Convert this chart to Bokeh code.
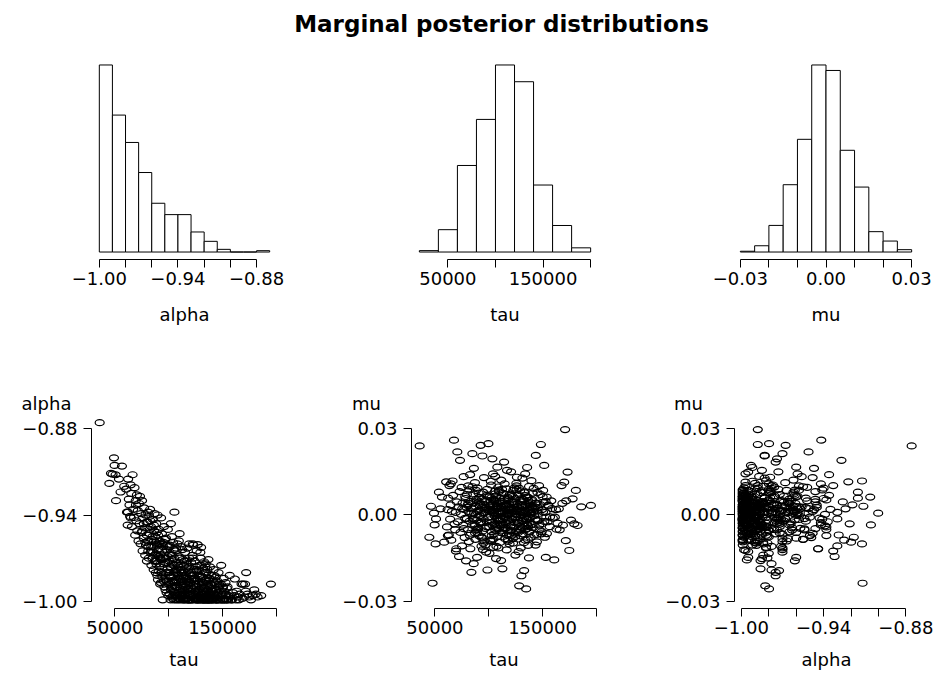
from bokeh.plotting import figure
from bokeh.layouts import column, row
from bokeh.models import (Range1d, FixedTicker, CustomJSTickFormatter, Label,
                          ColumnDataSource)
from bokeh.embed import file_html
from bokeh.resources import INLINE

FONT = "DejaVu Sans"
TITLE = "Marginal posterior distributions"

# ---------------- histogram data (counts per bin) ----------------
alpha_edges = [-1.00, -0.99, -0.98, -0.97, -0.96, -0.95, -0.94, -0.93, -0.92, -0.91,
               -0.90, -0.89, -0.88, -0.87]
alpha_counts = [280, 205, 164, 119, 73, 56, 56, 30, 16, 4, 0, 0, 2]

tau_edges = [20000, 40000, 60000, 80000, 100000, 120000, 140000, 160000, 180000, 200000]
tau_counts = [2, 32, 124, 190, 268, 244, 96, 38, 6]

mu_edges = [-0.030, -0.025, -0.020, -0.015, -0.010, -0.005, 0.000, 0.005, 0.010,
            0.015, 0.020, 0.025, 0.030]
mu_counts = [1, 8, 34, 86, 144, 239, 232, 130, 83, 26, 14, 3]

# ---------------- posterior samples ----------------
tau = [
    35800,
    47800, 50600, 49100, 49700, 53700, 46300, 51000, 56500, 44800, 55200, 58600,
    60400, 61200, 61800, 62300, 62900, 63500, 64100, 64600, 65200, 65800, 66400, 66900,
    67700, 68200, 68800, 69300, 69900, 70400, 70800, 71300, 71900, 72400, 72900, 73300,
    73800, 74300, 74800, 75200, 75700, 76200, 76700, 77100, 77600, 78100, 78500, 78900,
    79300, 79700, 62000, 64800, 69500,
    80300, 80700, 81100, 81500, 81900, 82300, 82700, 83100, 83500, 83900, 84300, 84800,
    85200, 85600, 86000, 86400, 86800, 87200, 87600, 88000, 88400, 88800, 89200, 89600,
    90000, 90400, 90800, 91200, 91600, 92000, 92500, 92900, 93300, 93700, 94100, 94400,
    94800, 95200, 95600, 96000, 96400, 96800, 97200, 97600, 98000, 98400, 98800, 99200,
    99700, 80900, 82900, 84600, 86200, 87900, 89400, 91000, 92700, 93900, 95400, 97000,
    98600, 99500, 88600,
    100200, 100500, 100800, 101100, 101400, 101700, 102000, 102300, 102600, 102900,
    103200, 103400, 103700, 104000, 104300, 104600, 104900, 105300, 105600, 105900,
    106200, 106500, 106800, 107100, 107400, 107700, 108000, 108300, 108600, 108900,
    109200, 109500, 109800, 110100, 110400, 110700, 111000, 111300, 111600, 111900,
    112200, 112700, 113000, 113300, 113600, 113900, 114300, 114600, 114900, 115200,
    115500, 115800, 116100, 116400, 116700, 117000, 117300, 117600, 117900, 118200,
    118500, 118800, 119100, 119400, 119700, 100700, 101900, 103000, 104100, 105100,
    106000, 107200, 108400, 109400, 110500, 111500, 112600, 113700, 114800, 115900,
    116900, 118000, 119000, 119900, 104800, 109000, 113100, 117800,
    120200, 120500, 120800, 121100, 121400, 121700, 122000, 122400, 122700, 123000,
    123300, 123600, 123900, 124200, 124500, 124800, 125100, 125400, 125700, 126000,
    126300, 126600, 127000, 127300, 127600, 127900, 128300, 128600, 128900, 129200,
    129500, 129800, 130100, 130400, 130700, 131000, 131300, 131600, 131900, 132200,
    132600, 132900, 133200, 133500, 133800, 134100, 134400, 134800, 135100, 135400,
    135700, 136000, 136300, 136600, 136900, 137200, 137500, 137800, 138100, 138400,
    138800, 139100, 139400, 139700, 121000, 122900, 124600, 126200, 127800, 129400,
    131100, 132700, 134200, 135900, 137400, 139000, 125900, 130900, 133900, 138600,
    140300, 140800, 141300, 141800, 142300, 142800, 143300, 143800, 144300, 144800,
    145300, 145800, 146300, 146800, 147300, 147800, 148500, 148800, 149400, 150000,
    150600, 151100, 151600, 152200, 152800, 153100, 153900, 154700, 155600, 156700,
    158200, 159600,
    160900, 161500, 163000, 165200, 167700, 169000, 170200, 171000, 171700, 172000,
    173300, 174900, 176500, 178000, 179500,
    181000, 182600, 186000, 195000,
]

alpha = [
    -0.8758,
    -0.9116, -0.9120, -0.9002, -0.9055, -0.9150, -0.9110, -0.9300, -0.9060, -0.9180,
    -0.9240, -0.9200,
    -0.9220, -0.9380, -0.9470, -0.9150, -0.9290, -0.9330, -0.9410, -0.9190, -0.9250,
    -0.9480, -0.9120, -0.9360, -0.9417, -0.9210, -0.9540, -0.9300, -0.9440, -0.9260,
    -0.9510, -0.9370, -0.9580, -0.9320, -0.9460, -0.9270, -0.9600, -0.9390, -0.9520,
    -0.9300, -0.9650, -0.9420, -0.9560, -0.9350, -0.9490, -0.9680, -0.9400, -0.9610,
    -0.9450, -0.9720, -0.9380, -0.9420, -0.9330,
    -0.9450, -0.9380, -0.9620, -0.9700, -0.9410, -0.9530, -0.9360, -0.9660, -0.9480,
    -0.9750, -0.9570, -0.9700, -0.9430, -0.9620, -0.9780, -0.9510, -0.9390, -0.9680,
    -0.9550, -0.9800, -0.9460, -0.9720, -0.9600, -0.9400, -0.9850, -0.9640, -0.9500,
    -0.9760, -0.9580, -0.9880, -0.9677, -0.9420, -0.9710, -0.9530, -0.9830, -0.9990,
    -0.9620, -0.9740, -0.9480, -0.9900, -0.9660, -0.9570, -0.9800, -0.9700, -0.9940,
    -0.9610, -0.9780, -0.9500, -0.9798, -0.9580, -0.9440, -0.9650, -0.9470, -0.9590,
    -0.9820, -0.9690, -0.9870, -0.9600, -0.9860, -0.9920, -0.9730, -0.9960, -0.9740,
    -0.9880, -0.9720, -0.9950, -0.9610, -0.9830, -0.9990, -0.9460, -0.9770, -0.9910,
    -0.9680, -0.9860, -0.9740, -0.9970, -0.9590, -0.9820, -0.9930, -0.9700, -0.9380,
    -0.9890, -0.9790, -0.9960, -0.9650, -0.9850, -0.9990, -0.9730, -0.9900, -0.9600,
    -0.9810, -0.9940, -0.9760, -0.9870, -0.9980, -0.9690, -0.9530, -0.9840, -0.9950,
    -0.9780, -0.9890, -0.9620, -0.9970, -0.9800, -0.9860, -0.9920, -0.9710, -0.9990,
    -0.9830, -0.9750, -0.9930, -0.9880, -0.9660, -0.9960, -0.9820, -0.9900, -0.9740,
    -0.9980, -0.9850, -0.9630, -0.9940, -0.9790, -0.9910, -0.9870, -0.9990, -0.9700,
    -0.9840, -0.9950, -0.9800, -0.9920, -0.9550, -0.9960, -0.9640, -0.9870, -0.9780,
    -0.9970, -0.9580, -0.9910, -0.9860, -0.9640, -0.9950, -0.9800, -0.9990, -0.9720,
    -0.9880, -0.9600, -0.9930, -0.9990, -0.9990, -0.9980, -0.9990,
    -0.9870, -0.9960, -0.9730, -0.9910, -0.9820, -0.9990, -0.9680, -0.9600, -0.9890,
    -0.9950, -0.9780, -0.9860, -0.9980, -0.9720, -0.9930, -0.9840, -0.9990, -0.9760,
    -0.9900, -0.9650, -0.9970, -0.9810, -0.9606, -0.9940, -0.9880, -0.9990, -0.9826,
    -0.9750, -0.9920, -0.9850, -0.9960, -0.9700, -0.9625, -0.9750, -0.9900, -0.9980,
    -0.9830, -0.9930, -0.9770, -0.9990, -0.9870, -0.9725, -0.9950, -0.9800, -0.9910,
    -0.9990, -0.9740, -0.9798, -0.9960, -0.9860, -0.9920, -0.9780, -0.9990, -0.9890,
    -0.9710, -0.9940, -0.9840, -0.9990, -0.9900, -0.9760, -0.9970, -0.9880, -0.9930,
    -0.9820, -0.9800, -0.9610, -0.9980, -0.9790, -0.9950, -0.9660, -0.9870, -0.9990,
    -0.9930, -0.9970, -0.9810, -0.9950, -0.9990, -0.9990, -0.9970, -0.9990,
    -0.9920, -0.9850, -0.9990, -0.9780, -0.9950, -0.9880, -0.9970, -0.9830, -0.9920,
    -0.9990, -0.9860, -0.9940, -0.9800, -0.9970, -0.9890, -0.9990, -0.9880, -0.9750,
    -0.9960, -0.9910, -0.9990, -0.9840, -0.9930, -0.9980, -0.9870, -0.9950, -0.9990,
    -0.9900, -0.9960, -0.9820, -0.9990, -0.9940,
    -0.9960, -0.9845, -0.9930, -0.9990, -0.9880, -0.9880, -0.9970, -0.9880, -0.9930,
    -0.9800, -0.9950, -0.9970, -0.9990, -0.9960, -0.9920,
    -0.9950, -0.9970, -0.9960, -0.9880,
]

mu = [
    0.0240,
    -0.0238, -0.0101, 0.0006, -0.0035, 0.0079, 0.0030, -0.0014, 0.0062, -0.0078,
    0.0021, -0.0095,
    0.0115, -0.0042, 0.0018, 0.0058, -0.0070, 0.0102, -0.0015, 0.0035, -0.0088,
    0.0012, 0.0118, 0.0068, 0.0260, -0.0031, -0.0052, 0.0009, -0.0118, 0.0045,
    0.0219, -0.0024, 0.0028, -0.0145, 0.0081, 0.0190, -0.0061, 0.0002, 0.0096,
    -0.0108, 0.0041, -0.0036, 0.0133, 0.0019, -0.0079, -0.0012, 0.0057, -0.0160,
    0.0026, 0.0071, -0.0072, 0.0108, -0.0126,
    0.0034, -0.0051, 0.0012, -0.0093, 0.0087, -0.0022, 0.0140, 0.0047, -0.0064,
    -0.0200, 0.0021, 0.0213, -0.0011, 0.0073, -0.0170, 0.0006, -0.0038, 0.0112,
    -0.0085, 0.0029, 0.0054, -0.0019, -0.0148, 0.0093, -0.0044, 0.0015, -0.0072,
    0.0061, -0.0003, 0.0038, 0.0242, -0.0027, -0.0109, 0.0025, 0.0205, -0.0056,
    0.0079, -0.0014, 0.0130, -0.0091, 0.0008, -0.0047, 0.0052, -0.0130, 0.0017,
    0.0068, -0.0192, -0.0008, 0.0248, 0.0101, -0.0118, -0.0035, 0.0162, 0.0001,
    -0.0061, 0.0044, -0.0024, -0.0081, 0.0036, -0.0105, 0.0089, 0.0019, -0.0052,
    0.0012, -0.0041, 0.0063, -0.0017, 0.0028, -0.0089, 0.0045, 0.0104, -0.0058,
    0.0009, -0.0026, 0.0195, 0.0037, 0.0143, -0.0113, 0.0018, -0.0067, 0.0052,
    -0.0004, 0.0083, -0.0039, 0.0024, -0.0152, 0.0066, -0.0012, 0.0031, 0.0166,
    -0.0075, 0.0003, 0.0097, -0.0048, 0.0014, -0.0021, 0.0058, -0.0096, 0.0042,
    0.0007, -0.0033, 0.0121, -0.0062, 0.0026, -0.0188, 0.0011, -0.0015, 0.0075,
    -0.0044, 0.0184, -0.0006, 0.0049, -0.0083, 0.0020, -0.0029, 0.0091, 0.0033,
    -0.0122, 0.0155, -0.0053, 0.0004, 0.0060, -0.0019, 0.0039, -0.0070, 0.0015,
    -0.0101, 0.0072, -0.0134, 0.0117, -0.0085, 0.0053, -0.0031, 0.0134, -0.0110,
    0.0022, 0.0086, -0.0012, -0.0159, 0.0047, -0.0035, 0.0108, -0.0046, 0.0001,
    -0.0092, 0.0029, -0.0057, 0.0005, -0.0016, 0.0032, -0.0001,
    0.0025, -0.0037, 0.0150, 0.0008, -0.0071, 0.0046, -0.0014, 0.0064, -0.0098,
    0.0019, 0.0035, -0.0043, 0.0094, -0.0026, 0.0002, -0.0140, 0.0057, -0.0009,
    0.0110, -0.0059, 0.0013, -0.0018, 0.0040, -0.0084, 0.0071, -0.0030, -0.0247,
    0.0023, -0.0052, 0.0084, 0.0001, -0.0115, 0.0030, -0.0212, 0.0045, -0.0022,
    0.0128, -0.0066, 0.0010, 0.0052, -0.0039, -0.0194, 0.0017, 0.0077, -0.0005,
    -0.0088, 0.0036, -0.0258, 0.0061, -0.0016, 0.0165, -0.0047, 0.0027, -0.0106,
    0.0050, -0.0011, 0.0099, -0.0060, 0.0016, -0.0025, 0.0042, -0.0078, 0.0007,
    0.0119, -0.0055, 0.0086, -0.0007, 0.0131, -0.0128, 0.0012, 0.0034, -0.0012,
    0.0067, -0.0033, -0.0150, 0.0024, 0.0088, -0.0044, 0.0143, 0.0003,
    0.0053, -0.0034, 0.0011, 0.0092, -0.0070, 0.0028, -0.0015, 0.0207, 0.0041,
    -0.0094, 0.0078, -0.0021, 0.0005, 0.0102, -0.0052, 0.0036, 0.0245, -0.0066,
    0.0018, -0.0030, 0.0085, 0.0044, 0.0172, -0.0078, 0.0009, -0.0148, 0.0062,
    -0.0024, 0.0031, -0.0041, 0.0049, -0.0011,
    -0.0157, -0.0008, -0.0050, 0.0021, 0.0102, -0.0036, 0.0114, 0.0297, -0.0090,
    0.0049, 0.0149, -0.0124, -0.0018, 0.0056, -0.0031,
    0.0085, -0.0037, 0.0028, 0.0033,
]

# further samples in the dense core of the scatter clouds
tau_more = [
    85500, 87300, 89100, 90600, 92200, 93800, 95100, 96600, 97900, 99100,
    100400, 101600, 102800, 103900, 105000, 106100, 107300, 108500, 109600, 110800,
    111900, 113100, 114200, 115400, 116500, 117700, 118800, 120000, 121200, 122300,
    123500, 124700, 125800, 127000, 128100, 129300, 130500, 131600, 132800, 134000,
    135100, 136300, 137500, 138600, 139800, 141000, 142200, 143400, 144600, 145800,
    86400, 88200, 90100, 91800, 93400, 95000, 96900, 98300, 99800, 101300,
    102500, 103600, 104700, 105800, 106900, 108000, 109100, 110200, 111300, 112400,
    113500, 114600, 115700, 116800, 117900, 119000, 120100, 121300, 122400, 123600,
    124800, 125900, 127100, 128200, 129400, 130600, 131700, 132900, 134100, 135200,
    136400, 137600, 138700, 139900, 141100, 142300, 143500, 144700, 146900, 148100,
    149300, 150500, 151700, 152900, 154100, 155300, 157000, 162500, 166000, 168500,
    75400, 76800, 78200, 79600, 81000, 82400, 83800, 84900, 86900, 88900,
    91400, 94600, 97400, 100900, 104400, 107700, 111000, 114000, 118400, 121800,
    126500, 129900, 133300, 136800, 140500, 145200, 150200, 153500, 158800, 164000,
]

alpha_more = [
    -0.9660, -0.9720, -0.9610, -0.9790, -0.9740, -0.9650, -0.9810, -0.9730, -0.9860, -0.9690,
    -0.9820, -0.9760, -0.9900, -0.9710, -0.9940, -0.9800, -0.9870, -0.9750, -0.9920, -0.9850,
    -0.9780, -0.9960, -0.9830, -0.9900, -0.9770, -0.9950, -0.9860, -0.9810, -0.9970, -0.9890,
    -0.9840, -0.9930, -0.9790, -0.9980, -0.9880, -0.9940, -0.9830, -0.9970, -0.9900, -0.9850,
    -0.9990, -0.9920, -0.9860, -0.9960, -0.9910, -0.9980, -0.9870, -0.9950, -0.9990, -0.9900,
    -0.9580, -0.9670, -0.9540, -0.9700, -0.9800, -0.9590, -0.9850, -0.9640, -0.9870, -0.9670,
    -0.9830, -0.9980, -0.9750, -0.9900, -0.9630, -0.9960, -0.9820, -0.9700, -0.9940, -0.9800,
    -0.9890, -0.9720, -0.9980, -0.9850, -0.9920, -0.9760, -0.9990, -0.9850, -0.9700, -0.9960,
    -0.9880, -0.9780, -0.9930, -0.9990, -0.9820, -0.9950, -0.9880, -0.9990, -0.9760, -0.9930,
    -0.9990, -0.9840, -0.9960, -0.9990, -0.9930, -0.9820, -0.9990, -0.9960, -0.9880, -0.9990,
    -0.9950, -0.9900, -0.9990, -0.9960, -0.9910, -0.9990, -0.9970, -0.9990, -0.9950, -0.9980,
    -0.9510, -0.9460, -0.9590, -0.9540, -0.9650, -0.9500, -0.9620, -0.9550, -0.9720, -0.9520,
    -0.9600, -0.9700, -0.9560, -0.9620, -0.9860, -0.9900, -0.9990, -0.9990, -0.9990, -0.9990,
    -0.9990, -0.9990, -0.9980, -0.9990, -0.9990, -0.9990, -0.9990, -0.9990, -0.9990, -0.9970,
]

mu_more = [
    0.0042, -0.0063, 0.0011, 0.0076, -0.0029, 0.0055, -0.0098, 0.0023, -0.0041, 0.0064,
    -0.0008, 0.0036, -0.0072, 0.0014, 0.0049, -0.0053, 0.0027, -0.0019, 0.0081, -0.0035,
    0.0003, -0.0064, 0.0058, -0.0011, 0.0037, -0.0087, 0.0021, -0.0042, 0.0069, -0.0006,
    0.0045, -0.0075, 0.0016, -0.0028, 0.0093, -0.0049, 0.0008, 0.0054, -0.0097, 0.0031,
    -0.0013, 0.0062, -0.0057, 0.0019, -0.0033, 0.0076, -0.0002, 0.0040, -0.0068, 0.0025,
    -0.0016, 0.0085, -0.0049, 0.0031, -0.0077, 0.0007, 0.0046, -0.0024, 0.0018, -0.0091,
    0.0060, -0.0037, 0.0009, 0.0073, -0.0045, 0.0032, -0.0115, 0.0048, -0.0021, 0.0089,
    -0.0054, 0.0012, 0.0035, -0.0070, 0.0004, 0.0067, -0.0029, 0.0043, -0.0083, 0.0026,
    -0.0010, 0.0101, -0.0062, 0.0015, -0.0040, 0.0057, -0.0018, 0.0080, -0.0051, 0.0003,
    -0.0086, 0.0038, -0.0009, 0.0050, -0.0044, 0.0022, -0.0105, 0.0013, -0.0036, 0.0071,
    -0.0058, 0.0010, -0.0023, 0.0046, -0.0065, 0.0034, -0.0007, 0.0018, -0.0052, 0.0040,
    0.0022, -0.0048, 0.0064, -0.0013, 0.0039, -0.0071, 0.0005, 0.0098, -0.0032, 0.0049,
    -0.0002, -0.0121, 0.0027, 0.0016, -0.0084, 0.0040, 0.0011, -0.0047, 0.0056, -0.0015,
    0.0029, -0.0073, 0.0011, -0.0038, 0.0027, -0.0019, 0.0063, -0.0008, 0.0022, -0.0029,
]

# axis ticks
alpha_major = [-1.00, -0.94, -0.88]
alpha_minor = [-0.98, -0.96, -0.92, -0.90]
tau_major = [50000, 150000]
tau_minor = [100000, 200000]
mu_major = [-0.03, 0.00, 0.03]
mu_minor = [-0.02, -0.01, 0.01, 0.02]

samples = ColumnDataSource(data=dict(tau=tau + tau_more, alpha=alpha + alpha_more,
                                     mu=mu + mu_more))

fmt2 = CustomJSTickFormatter(code="return tick.toFixed(2).replace('-', '\\u2212');")
fmt0 = CustomJSTickFormatter(code="return tick.toFixed(0);")


def make_fig(w, h, bl, br, bt, bb, xr, yr):
    p = figure(width=w, height=h, x_range=xr, y_range=yr, output_backend="svg",
               toolbar_location=None, min_border_left=bl, min_border_right=br,
               min_border_top=bt, min_border_bottom=bb)
    p.grid.visible = False
    p.outline_line_color = None
    p.background_fill_color = "white"
    p.border_fill_color = "white"
    return p


def text_strip(h):
    # a blank full-width strip (1 data unit = 1 px) that only carries text
    p = figure(width=935, height=h, x_range=Range1d(0, 935), y_range=Range1d(0, h),
               output_backend="svg", toolbar_location=None, min_border=0,
               x_axis_type=None, y_axis_type=None)
    p.grid.visible = False
    p.outline_line_color = None
    p.background_fill_color = "white"
    p.border_fill_color = "white"
    return p


def style_axis(ax, major, minor, fmt, label=None, label_standoff=6, tick_standoff=4):
    ax.ticker = FixedTicker(ticks=major, minor_ticks=minor)
    allt = sorted(major + minor)
    ax.bounds = (allt[0], allt[-1])
    ax.formatter = fmt
    ax.axis_line_color = "black"
    ax.axis_line_width = 1
    ax.major_tick_in = 0
    ax.major_tick_out = 8
    ax.minor_tick_in = 0
    ax.minor_tick_out = 8
    ax.major_tick_line_color = "black"
    ax.minor_tick_line_color = "black"
    ax.major_tick_line_width = 1
    ax.minor_tick_line_width = 1
    ax.major_label_text_font = FONT
    ax.major_label_text_font_size = "18px"
    ax.major_label_text_color = "black"
    ax.major_label_standoff = tick_standoff
    if label is not None:
        ax.axis_label = label
        ax.axis_label_text_font = FONT
        ax.axis_label_text_font_size = "18px"
        ax.axis_label_text_font_style = "normal"
        ax.axis_label_text_color = "black"
        ax.axis_label_standoff = label_standoff


def hist_fig(w, bl, br, edges, counts, major, minor, fmt, label):
    span = edges[-1] - edges[0]
    xr = Range1d(edges[0] - 0.04 * span, edges[-1] + 0.04 * span)
    cmax = max(counts)
    yr = Range1d(-0.04 * cmax, 1.04 * cmax)
    p = make_fig(w, 300, bl, br, 17, 81, xr, yr)
    src = ColumnDataSource(data=dict(left=edges[:-1], right=edges[1:], top=counts,
                                     bottom=[0] * len(counts)))
    p.quad(left="left", right="right", top="top", bottom="bottom", source=src,
           fill_color="white", line_color="black", line_width=1)
    p.yaxis.visible = False
    style_axis(p.xaxis[0], major, minor, fmt, label, label_standoff=16)
    return p


def scatter_fig(w, bl, br, xcol, ycol, xr, yr, xmaj, xmin, xfmt, ymaj, ymin, yfmt):
    p = make_fig(w, 260, bl, br, 0, 67, xr, yr)
    p.ellipse(x=xcol, y=ycol, source=samples, width=9, height=6,
              width_units="screen", height_units="screen",
              fill_color=None, line_color="black", line_width=1.2)
    style_axis(p.xaxis[0], xmaj, xmin, xfmt, xcol, label_standoff=12)
    style_axis(p.yaxis[0], ymaj, ymin, yfmt, tick_standoff=6)
    return p


# title strip
top = text_strip(40)
top.add_layout(Label(x=501, y=17, text=TITLE, text_align="center",
                     text_baseline="alphabetic", text_font=FONT,
                     text_font_size="23px", text_font_style="bold", text_color="black"))

p1 = hist_fig(320, 92, 44, alpha_edges, alpha_counts, alpha_major, alpha_minor, fmt2, "alpha")
p2 = hist_fig(320, 92, 43, tau_edges, tau_counts, tau_major, tau_minor, fmt0, "tau")
p3 = hist_fig(295, 93, 17, mu_edges, mu_counts, mu_major, mu_minor, fmt2, "mu")

# strip carrying the y-axis names of the scatter plots (drawn above each y axis)
mid = text_strip(75)
for xc, name in [(46, "alpha"), (366, "mu"), (688, "mu")]:
    mid.add_layout(Label(x=xc, y=12, text=name, text_align="center",
                         text_baseline="alphabetic", text_font=FONT,
                         text_font_size="18px", text_color="black"))

tau_rng = (28200, 200200)
alpha_rng = (-1.005, -0.8708)
mu_rng = (-0.0326, 0.0346)

p4 = scatter_fig(320, 91, 44, "tau", "alpha", Range1d(*tau_rng), Range1d(*alpha_rng),
                 tau_major, tau_minor, fmt0, alpha_major, [], fmt2)
p5 = scatter_fig(320, 91, 44, "tau", "mu", Range1d(*tau_rng), Range1d(*mu_rng),
                 tau_major, tau_minor, fmt0, mu_major, [], fmt2)
p6 = scatter_fig(295, 94, 17, "alpha", "mu", Range1d(*alpha_rng), Range1d(*mu_rng),
                 alpha_major, alpha_minor, fmt2, mu_major, [], fmt2)

layout = column(top, row(p1, p2, p3), mid, row(p4, p5, p6))

open("out.html", "w").write(file_html(layout, INLINE))
